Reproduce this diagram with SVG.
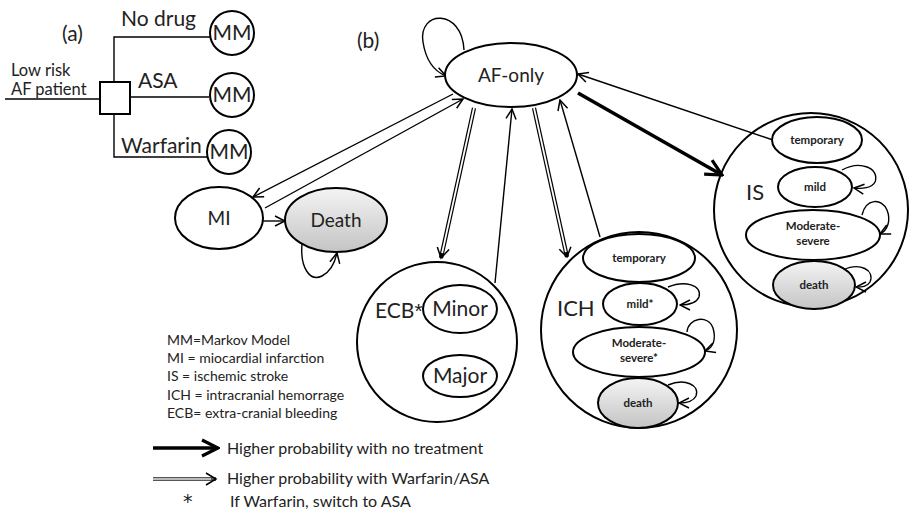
<svg xmlns="http://www.w3.org/2000/svg" width="914" height="513" viewBox="0 0 914 513">
<style>
text{font-family:Lato,"Open Sans","Liberation Sans",sans-serif;fill:#222}
.n{fill:#fff;stroke:#000;stroke-width:2}
.g{stroke:#000;stroke-width:2}
.c{fill:none;stroke:#000;stroke-width:1.4}
.lg{font-size:19px}
.md{font-size:21px}
.sm{font-size:11.5px;font-weight:bold}
.leg{font-size:14px}
.leg2{font-size:16px}
.dbl{fill:none;stroke:#000;stroke-width:4.2}
.dblw{fill:none;stroke:#fff;stroke-width:1.8}
</style>
<defs>
<marker id="ah" viewBox="0 0 12 12" refX="11" refY="6" markerWidth="12" markerHeight="12" orient="auto" markerUnits="userSpaceOnUse"><path d="M1,1 L11,6 L1,11" fill="none" stroke="#000" stroke-width="1.5"/></marker>
<marker id="ahT" viewBox="0 0 20 20" refX="18" refY="10" markerWidth="20" markerHeight="20" orient="auto" markerUnits="userSpaceOnUse"><path d="M2,2 L18,10 L2,18" fill="none" stroke="#000" stroke-width="3.2"/></marker>
<linearGradient id="gr" x1="0" y1="0" x2="0" y2="1"><stop offset="0" stop-color="#f4f4f4"/><stop offset="1" stop-color="#c4c4c4"/></linearGradient>
</defs>

<g id="part-a">
<text x="62" y="41" class="md">(a)</text>
<text x="11" y="76" style="font-size:16.5px">Low risk</text>
<text x="11" y="95" style="font-size:16.5px">AF patient</text>
<line x1="5" y1="99" x2="100" y2="99" class="c"/>
<polyline points="114,82 114,37 210,37" class="c"/>
<line x1="130" y1="97" x2="209" y2="97" class="c"/>
<polyline points="114,114 114,157 208,157" class="c"/>
<rect x="100" y="82" width="30" height="32" class="n"/>
<text x="121" y="26" class="md">No drug</text>
<text x="138" y="88" class="md">ASA</text>
<text x="121" y="153" class="md">Warfarin</text>
<g id="mm1"><circle cx="232" cy="33" r="22" class="n"/><text x="232" y="40" class="md" text-anchor="middle">MM</text></g>
<g id="mm2"><circle cx="232" cy="95" r="22" class="n"/><text x="232" y="102" class="md" text-anchor="middle">MM</text></g>
<g id="mm3"><circle cx="229" cy="152" r="22" class="n"/><text x="229" y="159" class="md" text-anchor="middle">MM</text></g>
</g>

<text x="357" y="48" class="md">(b)</text>

<g id="connectors">
<path d="M464,50 C462,8 418,10 423,42 C426,62 436,72 446,76" class="c" marker-end="url(#ah)"/>
<line x1="453" y1="94" x2="253" y2="197" class="c" marker-end="url(#ah)"/>
<line x1="265" y1="208" x2="463" y2="99" class="c" marker-end="url(#ah)"/>
<line x1="263" y1="221" x2="285" y2="221" class="c" marker-end="url(#ah)"/>
<path d="M302,244 C300,268 310,282 322,276 C330,272 335,262 337,253" class="c" marker-end="url(#ah)"/>
<path d="M474,108 L441,258" class="dbl"/>
<path d="M474,108 L442.1,253.1" class="dblw"/>
<path d="M437.3,246.9 L441,258 L449.1,249.5" fill="none" stroke="#000" stroke-width="1.5"/>
<line x1="495" y1="283" x2="512" y2="109" class="c" marker-end="url(#ah)"/>
<path d="M534,108 L567,257" class="dbl"/>
<path d="M534,108 L565.9,252.1" class="dblw"/>
<path d="M559.3,249.2 L567,257 L570.9,246.7" fill="none" stroke="#000" stroke-width="1.5"/>
<line x1="600" y1="237" x2="560" y2="100" class="c" marker-end="url(#ah)"/>
<line x1="773" y1="140" x2="578" y2="74" class="c" marker-end="url(#ah)"/>
<line x1="578" y1="93" x2="722" y2="175" stroke="#000" stroke-width="3.6" marker-end="url(#ahT)"/>
<path d="M842,170 C860,160 880,168 875,182 C872,188 862,189 854,188" class="c" marker-end="url(#ah)"/>
<path d="M862,215 C866,198 882,198 887,210 C891,220 888,230 880,234" class="c" marker-end="url(#ah)"/>
<path d="M843,270 C860,262 875,270 870,282 C867,287 862,287 856,287" class="c" marker-end="url(#ah)"/>
<path d="M668,287 C685,280 702,285 699,297 C696,304 688,305 680,305" class="c" marker-end="url(#ah)"/>
<path d="M687,332 C688,318 708,314 713,328 C716,338 714,348 705,351" class="c" marker-end="url(#ah)"/>
<path d="M668,385 C685,378 700,385 696,396 C693,402 686,403 679,403" class="c" marker-end="url(#ah)"/>
</g>

<g id="af-only"><ellipse cx="511" cy="75" rx="66" ry="32" class="n"/><text x="511" y="82" class="lg" text-anchor="middle">AF-only</text></g>
<g id="mi"><ellipse cx="219" cy="218" rx="44" ry="31" class="n"/><text x="219" y="225" class="lg" text-anchor="middle">MI</text></g>
<g id="death"><ellipse cx="336" cy="220" rx="51" ry="32" fill="url(#gr)" class="g"/><text x="336" y="227" class="lg" text-anchor="middle">Death</text></g>

<g id="ecb">
<circle cx="437" cy="342" r="80" fill="none" class="g"/>
<text x="375" y="318" style="font-size:21px">ECB<tspan style="font-family:'Liberation Sans',sans-serif">*</tspan></text>
<g id="ecb-minor"><ellipse cx="460" cy="309" rx="37" ry="24" class="n"/><text x="460" y="316" class="md" text-anchor="middle">Minor</text></g>
<g id="ecb-major"><ellipse cx="460" cy="376" rx="37" ry="21" class="n"/><text x="460" y="383" class="md" text-anchor="middle">Major</text></g>
</g>

<g id="ich">
<circle cx="639" cy="330" r="98" fill="none" class="g"/>
<text x="557" y="316" style="font-size:22px">ICH</text>
<g id="ich-temporary"><ellipse cx="639" cy="258" rx="56" ry="24" class="n"/><text x="639" y="262" class="sm" text-anchor="middle">temporary</text></g>
<g id="ich-mild"><ellipse cx="640" cy="304" rx="37" ry="21" class="n"/><text x="640" y="308" class="sm" text-anchor="middle">mild*</text></g>
<g id="ich-moderate"><ellipse cx="639" cy="352" rx="66" ry="25" class="n"/><text x="639" y="347" class="sm" text-anchor="middle">Moderate-</text><text x="639" y="362" class="sm" text-anchor="middle">severe*</text></g>
<g id="ich-death"><ellipse cx="638" cy="403" rx="40" ry="25" fill="url(#gr)" class="g"/><text x="638" y="407" class="sm" text-anchor="middle">death</text></g>
</g>

<g id="is">
<circle cx="811" cy="210" r="97" fill="none" class="g"/>
<text x="746" y="200" style="font-size:22px">IS</text>
<g id="is-temporary"><ellipse cx="817" cy="140" rx="45" ry="23" class="n"/><text x="817" y="144" class="sm" text-anchor="middle">temporary</text></g>
<g id="is-mild"><ellipse cx="815" cy="187" rx="37" ry="20" class="n"/><text x="815" y="191" class="sm" text-anchor="middle">mild</text></g>
<g id="is-moderate"><ellipse cx="813" cy="235" rx="67" ry="25" class="n"/><text x="813" y="230" class="sm" text-anchor="middle">Moderate-</text><text x="813" y="245" class="sm" text-anchor="middle">severe</text></g>
<g id="is-death"><ellipse cx="814" cy="285" rx="41" ry="24" fill="url(#gr)" class="g"/><text x="814" y="289" class="sm" text-anchor="middle">death</text></g>
</g>

<g id="legend">
<text x="167" y="345" class="leg">MM=Markov Model</text>
<text x="167" y="363" class="leg">MI = miocardial infarction</text>
<text x="167" y="381" class="leg">IS = ischemic stroke</text>
<text x="167" y="400" class="leg">ICH = intracranial  hemorrage</text>
<text x="167" y="418" class="leg">ECB= extra-cranial  bleeding</text>
<line x1="153" y1="448" x2="218" y2="448" stroke="#000" stroke-width="3.6" marker-end="url(#ahT)"/>
<text x="227" y="454" class="leg2">Higher probability with no treatment</text>
<path d="M153,479 L216,479" stroke="#555" stroke-width="4.2"/>
<path d="M153,479 L211,479" stroke="#ddd" stroke-width="1.6"/>
<path d="M206,473 L216,479 L206,485" fill="none" stroke="#000" stroke-width="1.5"/>
<text x="227" y="484" class="leg2">Higher probability with Warfarin/ASA</text>
<text x="183" y="508" style="font-size:19px;font-family:'DejaVu Sans',sans-serif">*</text>
<text x="230" y="507" class="leg2">If Warfarin, switch to ASA</text>
</g>
</svg>
